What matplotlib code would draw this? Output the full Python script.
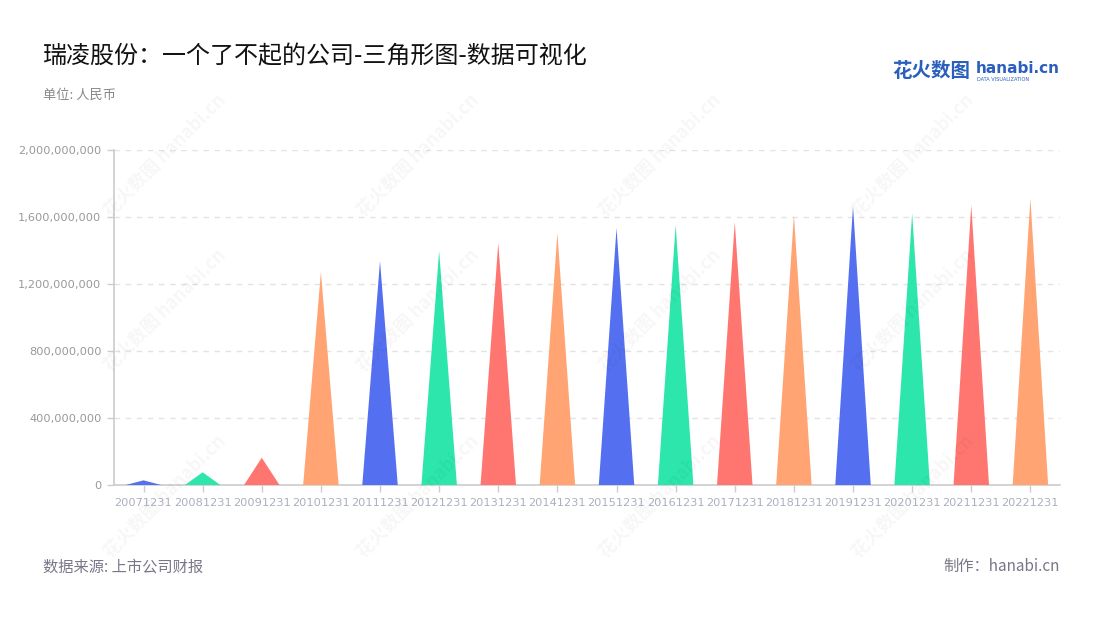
import matplotlib.pyplot as plt
from matplotlib.ticker import FuncFormatter

plt.rcParams['font.family'] = ['Noto Sans CJK SC', 'DejaVu Sans']

# data
periods = ['20071231', '20081231', '20091231', '20101231', '20111231', '20121231',
           '20131231', '20141231', '20151231', '20161231', '20171231', '20181231',
           '20191231', '20201231', '20211231', '20221231']
values = [28e6, 76e6, 163e6, 1272e6, 1337e6, 1397e6, 1445e6, 1504e6,
          1534e6, 1552e6, 1570e6, 1612e6, 1666e6, 1622e6, 1672e6, 1711e6]
palette = ['#5470f0', '#2de6ab', '#ff7670', '#ffa472']
yticks = [0, 400e6, 800e6, 1200e6, 1600e6, 2000e6]

fig = plt.figure(figsize=(11, 6.2), dpi=100)
ax = fig.add_axes([0.1036, 0.2177, 0.86, 0.5403])

# triangles
width = 0.6
for i, v in enumerate(values):
    ax.fill([i - width / 2, i, i + width / 2], [0, v, 0],
            color=palette[i % len(palette)], lw=0, zorder=3)

ax.set_xlim(-0.5, len(periods) - 0.5)
ax.set_ylim(0, 2e9)
ax.set_xticks(range(len(periods)))
ax.set_xticklabels(periods, fontsize=8.2, color='#aab0be', family='DejaVu Sans')
ax.set_yticks(yticks)
ax.yaxis.set_major_formatter(FuncFormatter(lambda v, p: f'{int(v):,}'))
for lab in ax.get_yticklabels():
    lab.set_fontsize(8.2)
    lab.set_color('#999999')
    lab.set_family('DejaVu Sans')

ax.grid(axis='y', color='#e3e3e3', linestyle=(0, (4, 4)), lw=1)
ax.set_axisbelow(True)
for s in ['top', 'right']:
    ax.spines[s].set_visible(False)
for s in ['left', 'bottom']:
    ax.spines[s].set_color('#cccccc')
    ax.spines[s].set_linewidth(1.2)
ax.tick_params(axis='both', colors='#cccccc', length=5, width=1)
ax.tick_params(axis='x', labelcolor='#aab0be', pad=4)
ax.tick_params(axis='y', labelcolor='#999999', pad=4)

# watermarks
for wx in [0.15, 0.38, 0.6, 0.83]:
    for wy in [0.75, 0.5, 0.2]:
        fig.text(wx, wy, '花火数图 hanabi.cn', rotation=45, fontsize=13,
                 color='#000000', alpha=0.035, ha='center', va='center',
                 fontweight='bold', zorder=0)

# titles and notes
fig.text(0.039, 0.91, '瑞凌股份：一个了不起的公司-三角形图-数据可视化',
         fontsize=17.3, color='#111111', va='center')
fig.text(0.039, 0.846, '单位: 人民币', fontsize=9.5, color='#888888', va='center')
fig.text(0.039, 0.086, '数据来源: 上市公司财报', fontsize=11, color='#777788', va='center')
fig.text(0.9636, 0.086, '制作：hanabi.cn', fontsize=11, color='#777788',
         va='center', ha='right')

# logo
fig.text(0.811, 0.884, '花火数图', fontsize=14, color='#2b5fbd',
         fontweight='bold', va='center')
fig.text(0.887, 0.89, 'hanabi.cn', fontsize=11, color='#2b5fbd',
         fontweight='bold', va='center', family='DejaVu Sans')
fig.text(0.888, 0.871, 'DATA VISUALIZATION', fontsize=3.6, color='#2b5fbd',
         va='center', family='DejaVu Sans')

fig.savefig('out.png', dpi=100, facecolor='white')
